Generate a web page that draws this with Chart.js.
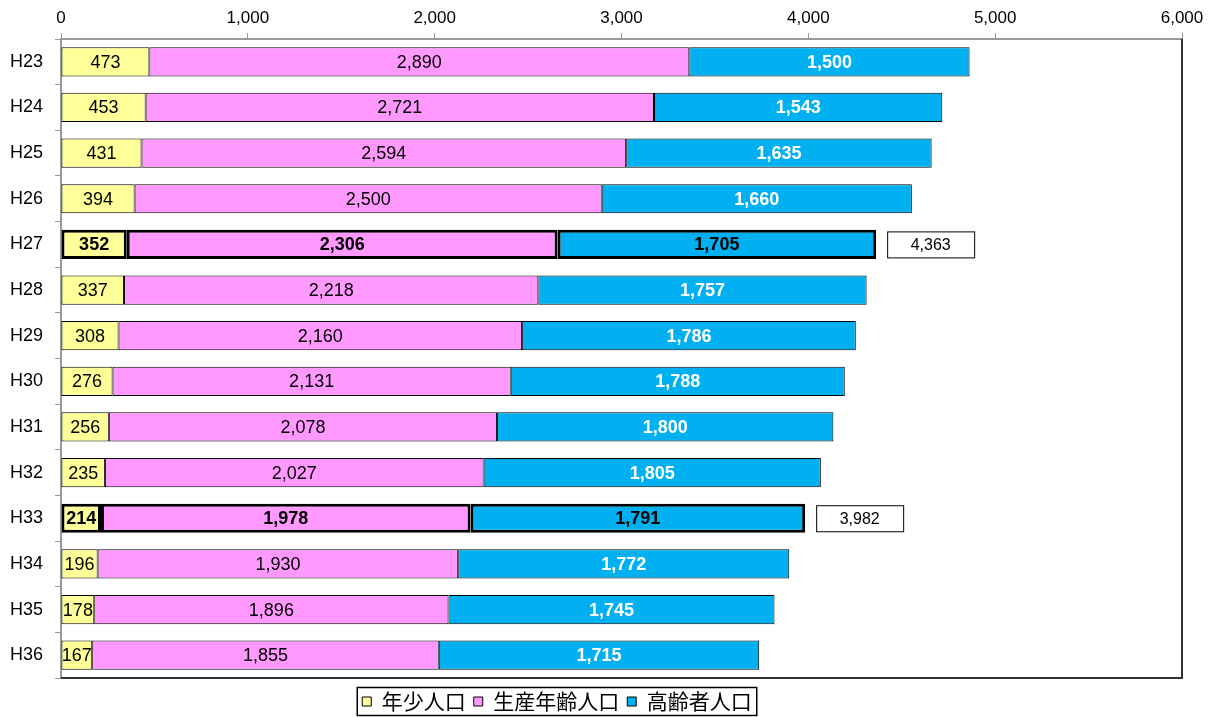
<!DOCTYPE html>
<html lang="ja">
<head>
  <meta charset="UTF-8" />
  <title>人口推計</title>
  <script src="https://cdn.jsdelivr.net/npm/chart.js"></script>
  <style>
    body { margin: 0; background: white; }
    #wrap { width: 1210px; height: 717px; position: relative; }
  </style>
</head>
<body>
  <div id="wrap"><canvas id="popChart"></canvas></div>
  <script>
    const years = ['H23', 'H24', 'H25', 'H26', 'H27', 'H28', 'H29', 'H30', 'H31', 'H32', 'H33', 'H34', 'H35', 'H36'];
    const young = [473, 453, 431, 394, 352, 337, 308, 276, 256, 235, 214, 196, 178, 167];
    const working = [2890, 2721, 2594, 2500, 2306, 2218, 2160, 2131, 2078, 2027, 1978, 1930, 1896, 1855];
    const elderly = [1500, 1543, 1635, 1660, 1705, 1757, 1786, 1788, 1800, 1805, 1791, 1772, 1745, 1715];
    // totals shown in a box only for the highlighted years
    const totals = [null, null, null, null, 4363, null, null, null, null, null, 3982, null, null, null];
    const xTicks = [0, 1000, 2000, 3000, 4000, 5000, 6000];

    const FONT = '"Liberation Sans", Arial, sans-serif';
    const isHi = i => totals[i] !== null;
    const bw = years.map((y, i) => isHi(i) ? 3 : 1);
    const LEGEND_DX = 34; // legend sits a bit left of centre in the original
    const LEGEND_DY = 5;

    // labels inside each segment + total boxes
    const barLabels = {
      id: 'barLabels',
      afterLayout(chart) {
        const lg = chart.legend;
        const pad = lg.options.labels.padding;
        // undo the first placement, move the box, place again
        lg.legendHitBoxes.forEach(h => { h.top -= lg.top + pad; });
        lg.left -= LEGEND_DX;
        lg.right -= LEGEND_DX;
        lg.top += LEGEND_DY;
        lg.bottom += LEGEND_DY;
        lg.adjustHitBoxes();
      },
      afterDatasetsDraw(chart) {
        const ctx = chart.ctx;
        ctx.save();
        ctx.textAlign = 'center';
        ctx.textBaseline = 'middle';
        chart.data.datasets.forEach((ds, di) => {
          chart.getDatasetMeta(di).data.forEach((bar, i) => {
            const hi = isHi(i);
            const cx = (bar.x + bar.base) / 2;
            if (di === 2 && !hi) {
              ctx.fillStyle = '#fff';
              ctx.font = 'bold 18px ' + FONT;
            } else {
              ctx.fillStyle = '#000';
              ctx.font = (hi ? 'bold 18px ' : '18px ') + FONT;
            }
            ctx.fillText(ds.data[i].toLocaleString('en-US'), cx, bar.y + 1);
          });
        });
        // total boxes
        const last = chart.getDatasetMeta(2).data;
        totals.forEach((t, i) => {
          if (t === null) return;
          const bar = last[i];
          const x0 = bar.x + 11, w = 87, h = 26;
          ctx.fillStyle = '#fff';
          ctx.fillRect(x0, bar.y - h / 2, w, h);
          ctx.strokeStyle = '#000';
          ctx.lineWidth = 1;
          ctx.strokeRect(x0 + 0.5, bar.y - h / 2 + 0.5, w, h);
          ctx.fillStyle = '#000';
          ctx.font = '16px ' + FONT;
          ctx.fillText(t.toLocaleString('en-US'), x0 + w / 2, bar.y + 1);
        });
        ctx.restore();
      },
      afterDraw(chart) {
        const ctx = chart.ctx;
        const a = chart.chartArea;
        ctx.save();
        // right and bottom edge of plot area
        ctx.strokeStyle = '#333';
        ctx.lineWidth = 2;
        ctx.beginPath();
        ctx.moveTo(a.right, a.top);
        ctx.lineTo(a.right, a.bottom);
        ctx.lineTo(a.left, a.bottom);
        ctx.stroke();
        // frame around the legend
        const boxes = chart.legend.legendHitBoxes;
        if (boxes && boxes.length) {
          const l = Math.min(...boxes.map(b => b.left)) - 5;
          const r = Math.max(...boxes.map(b => b.left + b.width)) + 5;
          const t = a.bottom + 9.5;
          const b = chart.height - 1.5;
          ctx.strokeStyle = '#000';
          ctx.lineWidth = 1.5;
          ctx.strokeRect(l, t, r - l, b - t);
        }
        ctx.restore();
      }
    };

    new Chart(document.getElementById('popChart'), {
      type: 'bar',
      data: {
        labels: years,
        datasets: [
          { label: '年少人口', data: young, backgroundColor: '#FFFF99' },
          { label: '生産年齢人口', data: working, backgroundColor: '#FF99FF' },
          { label: '高齢者人口', data: elderly, backgroundColor: '#00B0F0' }
        ].map(d => Object.assign(d, {
          borderColor: '#000',
          borderWidth: bw,
          borderSkipped: false,
          barPercentage: 0.64,
          categoryPercentage: 1
        }))
      },
      options: {
        indexAxis: 'y',
        responsive: true,
        maintainAspectRatio: false,
        animation: false,
        layout: { padding: { left: 0, right: 28, top: 0, bottom: 0 } },
        scales: {
          x: {
            position: 'top',
            stacked: true,
            min: 0,
            max: 6000,
            afterBuildTicks: s => { s.ticks = xTicks.map(v => ({ value: v })); },
            afterFit: s => { s.height = 39; },
            ticks: {
              color: '#000',
              font: { family: FONT, size: 17 },
              padding: 4,
              callback: v => v.toLocaleString('en-US')
            },
            grid: { drawOnChartArea: false, color: '#999', tickLength: 6 },
            border: { color: '#999', width: 2 }
          },
          y: {
            stacked: true,
            afterFit: s => { s.width = 61; },
            ticks: { color: '#000', font: { family: FONT, size: 18 }, padding: 12 },
            grid: { drawOnChartArea: false, color: '#999', tickLength: 6 },
            border: { color: '#999', width: 2 }
          }
        },
        plugins: {
          tooltip: { enabled: false },
          legend: {
            position: 'bottom',
            labels: {
              color: '#000',
              font: { family: '"Noto Sans CJK JP", sans-serif', size: 21 },
              boxWidth: 9,
              boxHeight: 9,
              padding: 8,
              generateLabels: chart => chart.data.datasets.map((d, i) => ({
                text: d.label,
                fillStyle: d.backgroundColor,
                strokeStyle: '#000',
                lineWidth: 1,
                datasetIndex: i
              }))
            }
          }
        }
      },
      plugins: [barLabels]
    });
  </script>
</body>
</html>
